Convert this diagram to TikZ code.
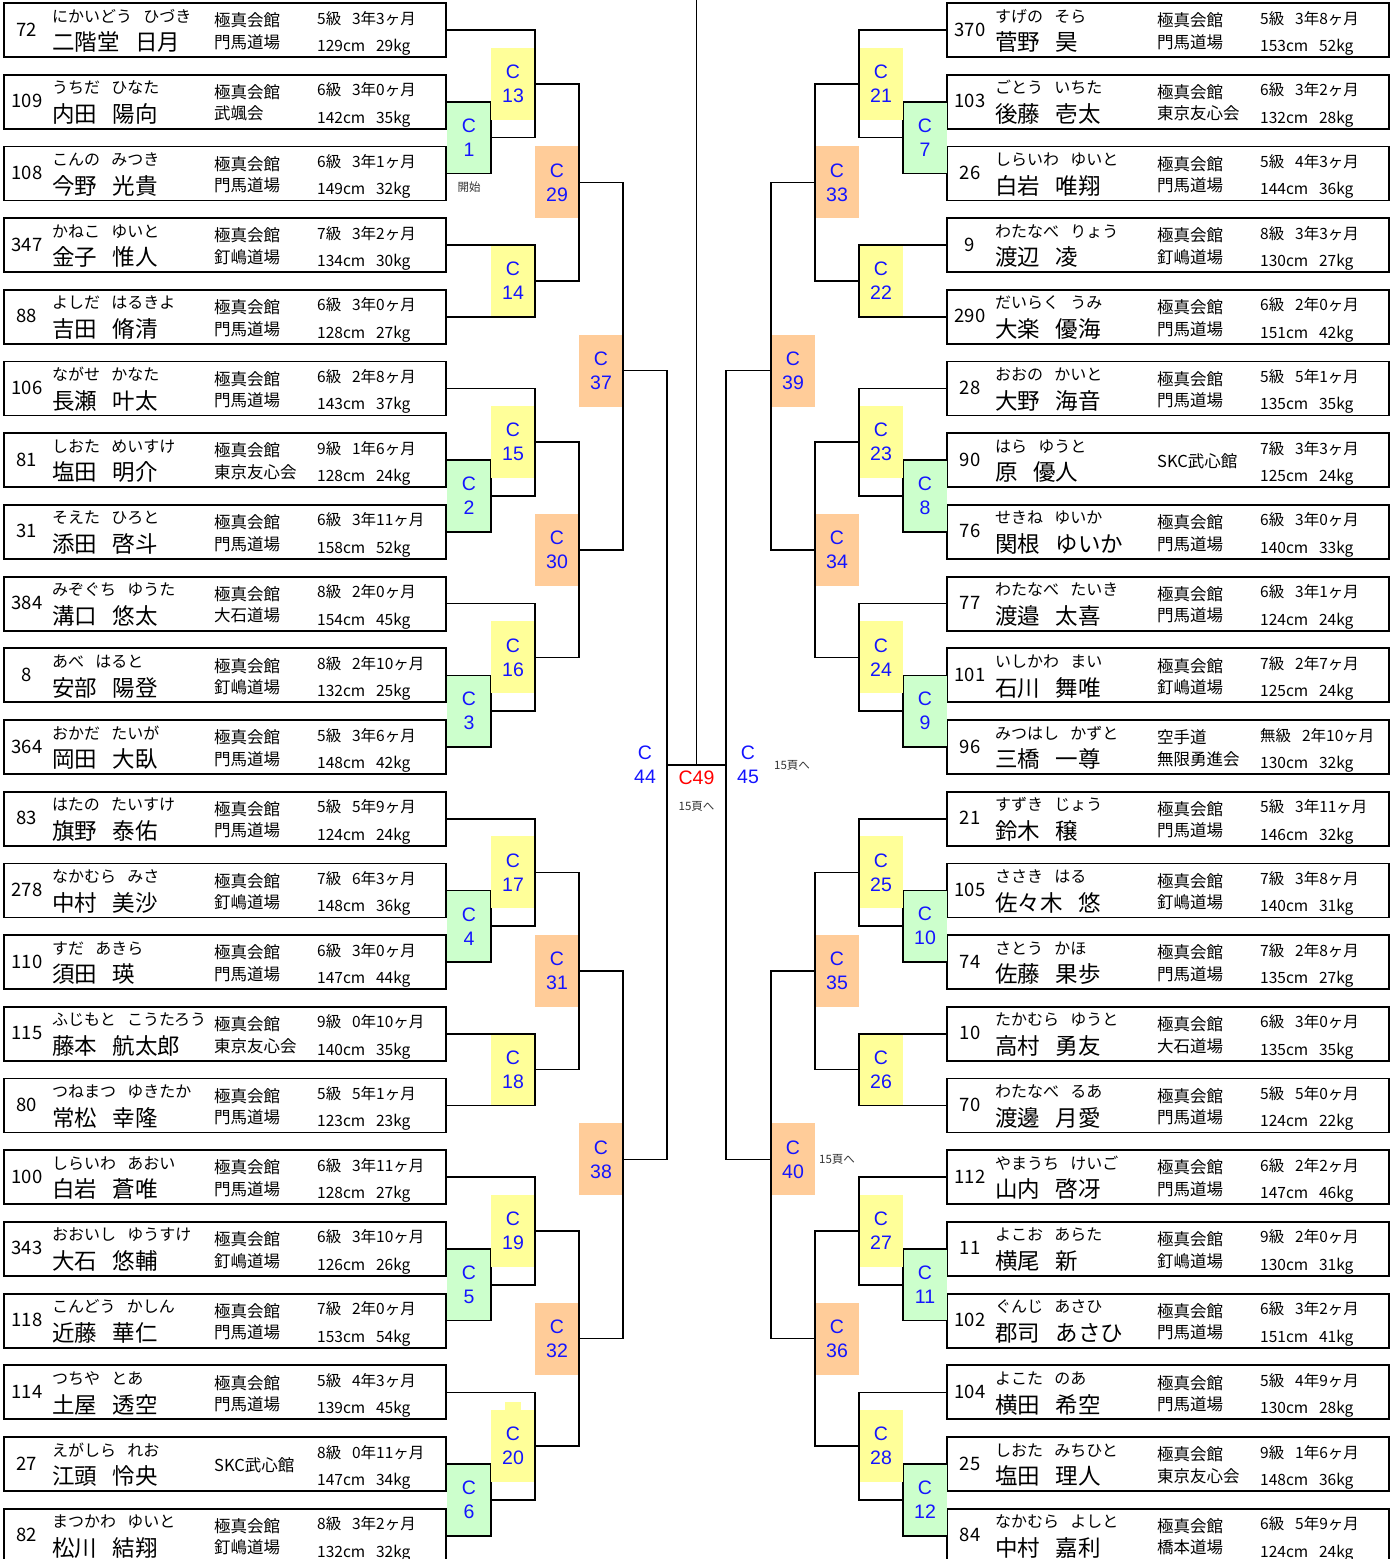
\documentclass[tikz,border=0pt]{standalone}
\usepackage{fontspec}
\setmainfont{Noto Sans CJK JP}
\newfontfamily\labfont{Liberation Sans}
\usetikzlibrary{positioning}
\definecolor{gfill}{HTML}{CCFFCC}
\definecolor{yfill}{HTML}{FFFF99}
\definecolor{ofill}{HTML}{FFCC99}
\definecolor{cblue}{HTML}{1414FF}
\definecolor{cred}{HTML}{FF0000}
\newcommand\gap{\hspace{.7em}}
\tikzset{
	entry/.style={draw,line width=1.8pt,minimum width=442pt,minimum height=54pt,inner sep=0pt,outer sep=0pt},
	bline/.style={line width=1.6pt},
	mbox/.style={minimum width=44pt,minimum height=72pt,inner sep=0pt,outer sep=0pt,align=center,text=cblue,font=\labfont\fontsize{19.5}{24}\selectfont},
	pnum/.style={anchor=base,inner sep=0pt,font=\fontsize{18.5}{20}\selectfont},
	kana/.style={anchor=base west,inner sep=0pt,font=\fontsize{16}{18}\selectfont},
	pname/.style={anchor=base west,inner sep=0pt,font=\fontsize{22.5}{26}\selectfont},
	dojo/.style={anchor=west,inner sep=0pt,align=left,font=\fontsize{16.5}{21.5}\selectfont},
	info/.style={anchor=base west,inner sep=0pt,font=\fontsize{15.5}{18}\selectfont},
	note/.style={inner sep=0pt,text=black!80,font=\fontsize{11.5}{13}\selectfont}
}
\newcommand\player[9]{%
	\node[entry] (#1) at ({#2+221},{30+71.7*(#3-1)}) {};
	\node[pnum] at ([shift={(23,6)}]#1.west) {#4};
	\node[kana] at ([shift={(48,-8)}]#1.west) {#5};
	\node[pname] at ([shift={(48,20.7)}]#1.west) {#6};
	\node[dojo] at ([shift={(210,1.2)}]#1.west) {#7};
	\node[info] at ([shift={(313,-6)}]#1.west) {#8};
	\node[info] at ([shift={(313,21.4)}]#1.west) {#9};
}
\newcommand\bout[7]{%
	\path (#2) -- (#3) coordinate[pos=.5] (mid);
	\coordinate (p) at (mid -| #4);
	\coordinate (o#1) at ([yshift=-#7pt]p);
	\node[mbox,fill=#6,anchor=#5] (c#1) at (o#1) {C\\#1};
	\draw[bline] (#2) -| (#3 -| o#1) -- (#3);
}
\begin{document}
\begin{tikzpicture}[x=1pt,y=-1pt]
	\useasboundingbox (0,0) rectangle (1399,1559);
	\clip (0,0) rectangle (1399,1559);
	\coordinate (lv1) at (491,0); \coordinate (lv2) at (535,0); \coordinate (lv3) at (579,0);
	\coordinate (lv4) at (623,0); \coordinate (lv5) at (667,0);
	\coordinate (rv1) at (903,0); \coordinate (rv2) at (859,0); \coordinate (rv3) at (815,0);
	\coordinate (rv4) at (771,0); \coordinate (rv5) at (726,0);

	\player{L1}{4}{1}{72}{にかいどう\gap ひづき}{二階堂\gap 日月}{極真会館\\門馬道場}{5級\gap 3年3ヶ月}{129cm\gap 29kg}
	\player{L2}{4}{2}{109}{うちだ\gap ひなた}{内田\gap 陽向}{極真会館\\武颯会}{6級\gap 3年0ヶ月}{142cm\gap 35kg}
	\player{L3}{4}{3}{108}{こんの\gap みつき}{今野\gap 光貴}{極真会館\\門馬道場}{6級\gap 3年1ヶ月}{149cm\gap 32kg}
	\player{L4}{4}{4}{347}{かねこ\gap ゆいと}{金子\gap 惟人}{極真会館\\釘嶋道場}{7級\gap 3年2ヶ月}{134cm\gap 30kg}
	\player{L5}{4}{5}{88}{よしだ\gap はるきよ}{吉田\gap 脩清}{極真会館\\門馬道場}{6級\gap 3年0ヶ月}{128cm\gap 27kg}
	\player{L6}{4}{6}{106}{ながせ\gap かなた}{長瀬\gap 叶太}{極真会館\\門馬道場}{6級\gap 2年8ヶ月}{143cm\gap 37kg}
	\player{L7}{4}{7}{81}{しおた\gap めいすけ}{塩田\gap 明介}{極真会館\\東京友心会}{9級\gap 1年6ヶ月}{128cm\gap 24kg}
	\player{L8}{4}{8}{31}{そえた\gap ひろと}{添田\gap 啓斗}{極真会館\\門馬道場}{6級\gap 3年11ヶ月}{158cm\gap 52kg}
	\player{L9}{4}{9}{384}{みぞぐち\gap ゆうた}{溝口\gap 悠太}{極真会館\\大石道場}{8級\gap 2年0ヶ月}{154cm\gap 45kg}
	\player{L10}{4}{10}{8}{あべ\gap はると}{安部\gap 陽登}{極真会館\\釘嶋道場}{8級\gap 2年10ヶ月}{132cm\gap 25kg}
	\player{L11}{4}{11}{364}{おかだ\gap たいが}{岡田\gap 大臥}{極真会館\\門馬道場}{5級\gap 3年6ヶ月}{148cm\gap 42kg}
	\player{L12}{4}{12}{83}{はたの\gap たいすけ}{旗野\gap 泰佑}{極真会館\\門馬道場}{5級\gap 5年9ヶ月}{124cm\gap 24kg}
	\player{L13}{4}{13}{278}{なかむら\gap みさ}{中村\gap 美沙}{極真会館\\釘嶋道場}{7級\gap 6年3ヶ月}{148cm\gap 36kg}
	\player{L14}{4}{14}{110}{すだ\gap あきら}{須田\gap 瑛}{極真会館\\門馬道場}{6級\gap 3年0ヶ月}{147cm\gap 44kg}
	\player{L15}{4}{15}{115}{ふじもと\gap こうたろう}{藤本\gap 航太郎}{極真会館\\東京友心会}{9級\gap 0年10ヶ月}{140cm\gap 35kg}
	\player{L16}{4}{16}{80}{つねまつ\gap ゆきたか}{常松\gap 幸隆}{極真会館\\門馬道場}{5級\gap 5年1ヶ月}{123cm\gap 23kg}
	\player{L17}{4}{17}{100}{しらいわ\gap あおい}{白岩\gap 蒼唯}{極真会館\\門馬道場}{6級\gap 3年11ヶ月}{128cm\gap 27kg}
	\player{L18}{4}{18}{343}{おおいし\gap ゆうすけ}{大石\gap 悠輔}{極真会館\\釘嶋道場}{6級\gap 3年10ヶ月}{126cm\gap 26kg}
	\player{L19}{4}{19}{118}{こんどう\gap かしん}{近藤\gap 華仁}{極真会館\\門馬道場}{7級\gap 2年0ヶ月}{153cm\gap 54kg}
	\player{L20}{4}{20}{114}{つちや\gap とあ}{土屋\gap 透空}{極真会館\\門馬道場}{5級\gap 4年3ヶ月}{139cm\gap 45kg}
	\player{L21}{4}{21}{27}{えがしら\gap れお}{江頭\gap 怜央}{SKC武心館}{8級\gap 0年11ヶ月}{147cm\gap 34kg}
	\player{L22}{4}{22}{82}{まつかわ\gap ゆいと}{松川\gap 結翔}{極真会館\\釘嶋道場}{8級\gap 3年2ヶ月}{132cm\gap 32kg}

	\player{R1}{947}{1}{370}{すげの\gap そら}{菅野\gap 昊}{極真会館\\門馬道場}{5級\gap 3年8ヶ月}{153cm\gap 52kg}
	\player{R2}{947}{2}{103}{ごとう\gap いちた}{後藤\gap 壱太}{極真会館\\東京友心会}{6級\gap 3年2ヶ月}{132cm\gap 28kg}
	\player{R3}{947}{3}{26}{しらいわ\gap ゆいと}{白岩\gap 唯翔}{極真会館\\門馬道場}{5級\gap 4年3ヶ月}{144cm\gap 36kg}
	\player{R4}{947}{4}{9}{わたなべ\gap りょう}{渡辺\gap 凌}{極真会館\\釘嶋道場}{8級\gap 3年3ヶ月}{130cm\gap 27kg}
	\player{R5}{947}{5}{290}{だいらく\gap うみ}{大楽\gap 優海}{極真会館\\門馬道場}{6級\gap 2年0ヶ月}{151cm\gap 42kg}
	\player{R6}{947}{6}{28}{おおの\gap かいと}{大野\gap 海音}{極真会館\\門馬道場}{5級\gap 5年1ヶ月}{135cm\gap 35kg}
	\player{R7}{947}{7}{90}{はら\gap ゆうと}{原\gap 優人}{SKC武心館}{7級\gap 3年3ヶ月}{125cm\gap 24kg}
	\player{R8}{947}{8}{76}{せきね\gap ゆいか}{関根\gap ゆいか}{極真会館\\門馬道場}{6級\gap 3年0ヶ月}{140cm\gap 33kg}
	\player{R9}{947}{9}{77}{わたなべ\gap たいき}{渡邉\gap 太喜}{極真会館\\門馬道場}{6級\gap 3年1ヶ月}{124cm\gap 24kg}
	\player{R10}{947}{10}{101}{いしかわ\gap まい}{石川\gap 舞唯}{極真会館\\釘嶋道場}{7級\gap 2年7ヶ月}{125cm\gap 24kg}
	\player{R11}{947}{11}{96}{みつはし\gap かずと}{三橋\gap 一尊}{空手道\\無限勇進会}{無級\gap 2年10ヶ月}{130cm\gap 32kg}
	\player{R12}{947}{12}{21}{すずき\gap じょう}{鈴木\gap 穣}{極真会館\\門馬道場}{5級\gap 3年11ヶ月}{146cm\gap 32kg}
	\player{R13}{947}{13}{105}{ささき\gap はる}{佐々木\gap 悠}{極真会館\\釘嶋道場}{7級\gap 3年8ヶ月}{140cm\gap 31kg}
	\player{R14}{947}{14}{74}{さとう\gap かほ}{佐藤\gap 果歩}{極真会館\\門馬道場}{7級\gap 2年8ヶ月}{135cm\gap 27kg}
	\player{R15}{947}{15}{10}{たかむら\gap ゆうと}{高村\gap 勇友}{極真会館\\大石道場}{6級\gap 3年0ヶ月}{135cm\gap 35kg}
	\player{R16}{947}{16}{70}{わたなべ\gap るあ}{渡邊\gap 月愛}{極真会館\\門馬道場}{5級\gap 5年0ヶ月}{124cm\gap 22kg}
	\player{R17}{947}{17}{112}{やまうち\gap けいご}{山内\gap 啓冴}{極真会館\\門馬道場}{6級\gap 2年2ヶ月}{147cm\gap 46kg}
	\player{R18}{947}{18}{11}{よこお\gap あらた}{横尾\gap 新}{極真会館\\釘嶋道場}{9級\gap 2年0ヶ月}{130cm\gap 31kg}
	\player{R19}{947}{19}{102}{ぐんじ\gap あさひ}{郡司\gap あさひ}{極真会館\\門馬道場}{6級\gap 3年2ヶ月}{151cm\gap 41kg}
	\player{R20}{947}{20}{104}{よこた\gap のあ}{横田\gap 希空}{極真会館\\門馬道場}{5級\gap 4年9ヶ月}{130cm\gap 28kg}
	\player{R21}{947}{21}{25}{しおた\gap みちひと}{塩田\gap 理人}{極真会館\\東京友心会}{9級\gap 1年6ヶ月}{148cm\gap 36kg}
	\player{R22}{947}{22}{84}{なかむら\gap よしと}{中村\gap 嘉利}{極真会館\\橋本道場}{6級\gap 5年9ヶ月}{124cm\gap 24kg}

	\foreach \m/\ia/\ib in {1/L2/L3,2/L7/L8,3/L10/L11,4/L13/L14,5/L18/L19,6/L21/L22}
		{\bout{\m}{\ia.east}{\ib.east}{lv1}{east}{gfill}{0}}
	\foreach \m/\ia/\ib in {7/R2/R3,8/R7/R8,9/R10/R11,10/R13/R14,11/R18/R19,12/R21/R22}
		{\bout{\m}{\ia.west}{\ib.west}{rv1}{west}{gfill}{0}}
	\foreach \m/\ia/\ib in {13/L1.east/o1,14/L4.east/L5.east,15/L6.east/o2,16/L9.east/o3,
		17/L12.east/o4,18/L15.east/L16.east,19/L17.east/o5,20/L20.east/o6}
		{\bout{\m}{\ia}{\ib}{lv2}{east}{yfill}{0}}
	\foreach \m/\ia/\ib in {21/R1.west/o7,22/R4.west/R5.west,23/R6.west/o8,24/R9.west/o9,
		25/R12.west/o10,26/R15.west/R16.west,27/R17.west/o11,28/R20.west/o12}
		{\bout{\m}{\ia}{\ib}{rv2}{west}{yfill}{0}}
	\fill[yfill] ([xshift=14pt]c20.north west) rectangle ++(16,-8);
	\foreach \m/\ia/\ib in {29/o13/o14,30/o15/o16,31/o17/o18,32/o19/o20}
		{\bout{\m}{\ia}{\ib}{lv3}{east}{ofill}{0}}
	\foreach \m/\ia/\ib in {33/o21/o22,34/o23/o24,35/o25/o26,36/o27/o28}
		{\bout{\m}{\ia}{\ib}{rv3}{west}{ofill}{0}}
	\bout{37}{o29}{o30}{lv4}{east}{ofill}{4.5}
	\bout{38}{o31}{o32}{lv4}{east}{ofill}{4.5}
	\bout{39}{o33}{o34}{rv4}{west}{ofill}{4.5}
	\bout{40}{o35}{o36}{rv4}{west}{ofill}{4.5}
	\bout{44}{o37}{o38}{lv5}{east}{none}{0}
	\bout{45}{o39}{o40}{rv5}{west}{none}{0}

	\path (o44) -- (o45) coordinate[pos=.5] (o49);
	\draw[bline] (o44) -- (o45);
	\draw[bline] (o49) -- (o49 |- lv1);
	\node[inner sep=0pt,text=cred,font=\labfont\fontsize{19.5}{22}\selectfont] (c49) at ([yshift=-13pt]o49) {C49};
	\node[note] (n49) at ([yshift=-41pt]o49) {15頁へ};
	\node[note,right=4pt of c45] (n45) {15頁へ};
	\node[note,right=4pt of c40] (n40) {15頁へ};
	\node[note,below=8pt of c1] (start) {開始};
\end{tikzpicture}
\end{document}
